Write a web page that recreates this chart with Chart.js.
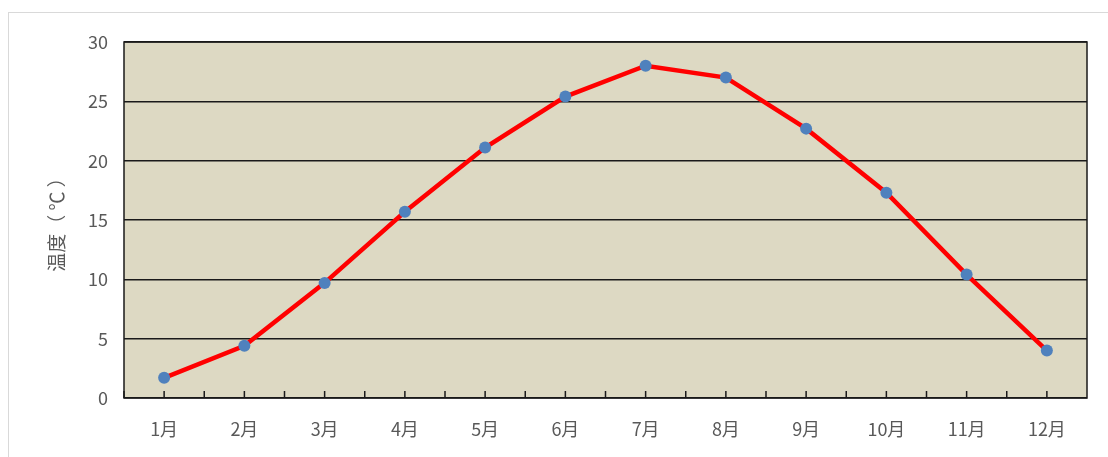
<!DOCTYPE html>
<html>
<head>
<meta charset="utf-8">
<script src="https://cdn.jsdelivr.net/npm/chart.js@4/dist/chart.umd.min.js"></script>
<style>
  html, body { margin: 0; padding: 0; background: #fff; }
  #wrap { position: relative; width: 1108px; height: 457px; overflow: hidden; }
  #frame { position: absolute; left: 8px; top: 12px; width: 1200px; height: 500px;
           border-left: 1px solid #d9d9d9; border-top: 1px solid #d9d9d9; }
  canvas { position: absolute; left: 0; top: 0; }
</style>
</head>
<body>
<div id="wrap">
  <div id="frame"></div>
  <canvas id="tempChart" width="1108" height="457"></canvas>
</div>
<script>
var months = ['1月', '2月', '3月', '4月', '5月', '6月', '7月', '8月', '9月', '10月', '11月', '12月'];
var temps = [1.7, 4.4, 9.7, 15.7, 21.1, 25.4, 28.0, 27.0, 22.7, 17.3, 10.4, 4.0];
var yTicks = [0, 5, 10, 15, 20, 25, 30];

// plot background, frame and the small inside tick marks on the x axis
var plotFrame = {
    id: 'plotFrame',
    beforeDraw: function(chart) {
        var a = chart.chartArea, ctx = chart.ctx;
        ctx.save();
        ctx.fillStyle = '#ddd9c3';
        ctx.fillRect(a.left, a.top, a.right - a.left, a.bottom - a.top);
        ctx.restore();
    },
    beforeDatasetsDraw: function(chart) {
        var a = chart.chartArea, ctx = chart.ctx, x = chart.scales.x;
        ctx.save();
        ctx.strokeStyle = '#1a1a1a';
        ctx.lineWidth = 1.5;
        ctx.strokeRect(a.left, a.top, a.right - a.left, a.bottom - a.top);
        var step = (x.getPixelForValue(1) - x.getPixelForValue(0)) / 2;
        ctx.beginPath();
        for (var i = 0; i < months.length; i++) {
            var c = x.getPixelForValue(i);
            [c - step, c].forEach(function(px) {
                ctx.moveTo(px, a.bottom);
                ctx.lineTo(px, a.bottom - 7);
            });
        }
        ctx.stroke();
        ctx.restore();
    }
};

var ctx = document.getElementById('tempChart').getContext('2d');
var chart = new Chart(ctx, {
    type: 'line',
    data: {
        labels: months,
        datasets: [{
            data: temps,
            borderColor: '#ff0000',
            borderWidth: 4.5,
            pointBackgroundColor: '#4f81bd',
            pointBorderColor: '#4f81bd',
            pointRadius: 6,
            pointBorderWidth: 0,
            tension: 0
        }]
    },
    options: {
        responsive: false,
        animation: false,
        layout: { padding: { left: 0, right: 21, top: 42, bottom: 0 } },
        plugins: { legend: { display: false }, tooltip: { enabled: false } },
        scales: {
            x: {
                offset: true,
                grid: { display: false },
                border: { display: false },
                ticks: { color: '#595959', padding: 12, font: { family: '"Noto Sans CJK SC", sans-serif', size: 18 } },
                afterFit: function(s) { s.height = 59; }
            },
            y: {
                min: 0,
                max: 30,
                afterBuildTicks: function(s) { s.ticks = yTicks.map(function(v) { return { value: v }; }); },
                grid: { color: '#1a1a1a', lineWidth: 1.5, drawTicks: false },
                border: { display: false },
                ticks: { color: '#595959', padding: 16, font: { family: '"Noto Sans CJK SC", sans-serif', size: 18 } },
                title: {
                    display: true,
                    text: '温度（ ℃ ）',
                    color: '#595959',
                    padding: { top: 45, bottom: 0 },
                    font: { family: '"Noto Sans CJK SC", sans-serif', size: 19 }
                },
                afterFit: function(s) { s.width = 124; }
            }
        }
    },
    plugins: [plotFrame]
});
</script>
</body>
</html>
